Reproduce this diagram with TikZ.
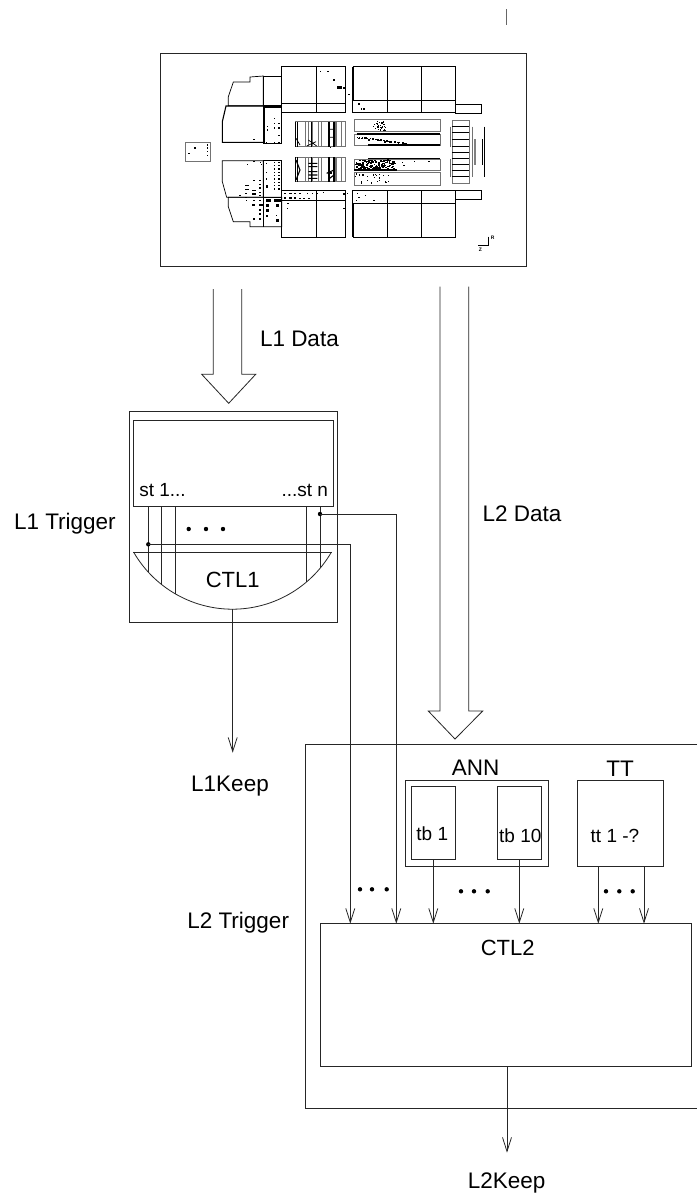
\documentclass[tikz,border=0pt]{standalone}
\usepackage{fontspec}
\setmainfont{Liberation Sans}
\usetikzlibrary{arrows.meta}
\tikzset{
  ln/.style={line width=0.8pt,draw=black!85},
  boxn/.style={ln,rectangle,inner sep=0pt,outer sep=0pt,anchor=north west},
  big/.style={font=\fontsize{22.5}{24}\selectfont,inner sep=0pt,outer sep=0pt},
  ctl/.style={font=\fontsize{22}{24}\selectfont,inner sep=0pt,outer sep=0pt},
  small/.style={font=\fontsize{19}{22}\selectfont,inner sep=0pt,outer sep=0pt},
  arr/.style={ln,-{Straight Barb[length=14pt,width=9pt,line width=0.8pt]}},
  jdot/.style={circle,fill=black,inner sep=0pt,minimum size=4.4pt},
  det/.style={line width=0.7pt,draw=black},
  dethv/.style={line width=1.1pt,draw=black},
  detg/.style={line width=0.9pt,draw=black!55},
}
\newcommand{\hitlist}[1]{\foreach \a/\b in {#1} \fill[black] (\a,\b) rectangle ++(3.5,3.5);}
\newcommand{\blocklist}[1]{\foreach \a/\b/\w/\h in {#1} \fill[black] (\a,\b) rectangle ++(\w,\h);}
\begin{document}
\begin{tikzpicture}[x=1pt,y=-1pt]
\useasboundingbox (0,0) rectangle (697,1195);
\fill[white] (0,0) rectangle (697,1195);

% tick above the event display
\draw[line width=1pt,draw=black!60] (506,9) -- (506,25);

% event display frame
\node[boxn,line width=1pt,minimum width=366pt,minimum height=213pt] (display) at (160,53.5) {};

% ---- left half of the detector, in 3x crop coordinates
\begin{scope}[xshift=160pt,yshift=-40pt,x=0.33333pt,y=-0.33333pt]
  \draw[det] (205,197) -- (205,170) -- (220,126) -- (270,126) -- (270,111) -- (310,108) -- (310,197) -- cycle;
  \draw[det] (310,108) rectangle (365,197);
  \draw[dethv] (198,198) -- (187,245) -- (187,307) -- (312,307) -- (312,198) -- cycle;
  \draw[dethv] (312,201) rectangle (365,310);
  \draw[detg] (76,307) rectangle (151,365);
  \draw[det] (365,80) rectangle (470,190);
  \draw[det] (470,80) rectangle (555,190);
  \draw[det] (365,190) rectangle (470,218);
  \draw[det] (470,190) rectangle (555,218);
  \draw[det] (187,362) -- (187,425) -- (200,472) -- (310,472) -- (310,362) -- cycle;
  \draw[dethv] (310,362) rectangle (365,472);
  \draw[det] (205,472) -- (205,500) -- (220,545) -- (270,545) -- (270,560) -- (365,560) -- (365,472) -- cycle;
  \draw[det] (310,472) -- (310,560);
  \draw[det] (365,452) rectangle (470,480);
  \draw[det] (470,452) rectangle (555,480);
  \draw[det] (365,480) rectangle (470,592);
  \draw[det] (470,480) rectangle (555,592);
  % inner chambers
  \draw[detg] (405,245) rectangle (555,320);
  \draw[detg] (405,352) rectangle (555,425);
  \foreach \xx in {435,445,458,475,485,505,525,530,545} {
    \draw[detg] (\xx,245) -- (\xx,320);
    \draw[detg] (\xx,352) -- (\xx,425);
  }
  \foreach \xx in {406,413,455,507,522} {
    \draw[dethv] (\xx,245) -- (\xx,320);
    \draw[dethv] (\xx,352) -- (\xx,425);
  }
  \draw[det] (408,295) -- (420,315) (445,300) -- (470,318) (440,318) -- (468,305) (508,268) -- (522,268) (508,292) -- (522,292);
  \draw[dethv] (408,360) -- (420,390) (420,390) -- (408,420) (445,395) -- (472,395) (445,405) -- (472,405) (445,415) -- (472,415) (500,400) -- (522,390) (505,418) -- (522,405) (445,370) -- (472,370) (445,380) -- (472,380);
  \blocklist{537/137/8/10,318/436/7/7,318/478/14/9,342/478/20/8,318/492/10/8,348/492/10/8,318/508/10/8,318/525/6/6,348/538/8/7,256/436/11/3,256/447/11/4,275/450/14/4,275/460/14/4,275/492/10/6,298/492/10/6,371/458/7/5,387/458/8/5,401/458/8/5,371/472/7/5,387/472/8/5,402/472/5/5,380/488/7/4}
  \hitlist{480/92,502/92,520/118,468/216,280/297,320/258,320/268,342/233,342/248,355/248,342/262,355/262,355/285,342/305,355/305,318/305,103/322,85/338,140/313,140/322,140/332,140/344,260/372,280/362,300/365,303/372,318/368,318/395,318/415,256/458,256/470,298/432,298/442,298/455,298/465,280/420,298/420,238/465,280/480,298/480,258/480,298/508,298/520,298/535,280/535,348/525,418/458,440/458,455/458,418/473,430/473,445/473,380/503,488/455,470/458}
  \foreach \yy in {365,375,...,445} { \hitlist{342/\yy,355/\yy} }
\end{scope}

% ---- right half of the detector, in 3x crop coordinates
\begin{scope}[xshift=330pt,yshift=-40pt,x=0.33333pt,y=-0.33333pt]
  \draw[dethv] (67,80) -- (67,218) (172,80) -- (172,218);
  \draw[det] (70,80) rectangle (172,182);
  \draw[det] (172,80) rectangle (275,182);
  \draw[dethv] (275,80) rectangle (377,182);
  \draw[det] (68,182) rectangle (172,218);
  \draw[det] (172,182) rectangle (275,218);
  \draw[det] (275,182) rectangle (377,218);
  \draw[det] (377,193) rectangle (455,220);
  \draw[dethv] (67,452) -- (67,592) (172,452) -- (172,592);
  \draw[det] (68,452) rectangle (172,490);
  \draw[det] (172,452) rectangle (275,490);
  \draw[det] (275,452) rectangle (377,490);
  \draw[det] (377,452) rectangle (455,478);
  \draw[det] (70,490) rectangle (172,592);
  \draw[det] (172,490) rectangle (275,592);
  \draw[dethv] (275,490) rectangle (377,592);
  % central strips
  \draw[detg] (73,237) rectangle (331,275);
  \draw[detg] (73,282) rectangle (331,315);
  \draw[detg] (73,358) rectangle (331,392);
  \draw[detg] (73,397) rectangle (331,435);
  \draw[dethv] (80,282) -- (331,282) (115,315) -- (331,315) (115,356) -- (331,356) (73,390) -- (200,390);
  % end cap
  \draw[detg] (367,240) rectangle (418,430);
  \foreach \yy in {260,278,298,318,337,355,373,392,410} \draw[det] (367,\yy) -- (418,\yy);
  \draw[line width=1.3pt,draw=black!60] (362,260) -- (362,322) (362,358) -- (362,412);
  \draw[detg] (428,260) -- (428,410);
  \draw[line width=2pt,draw=black!50] (434,298) -- (434,375);
  \draw[det] (458,298) -- (458,375) (463,260) -- (463,410);
  % axes
  \draw[det] (475,590) -- (475,615) -- (445,615);
  \node[font=\fontsize{5}{6}\selectfont\bfseries,inner sep=0pt] (axisR) at (488,593) {R};
  \node[font=\fontsize{5}{6}\selectfont\bfseries,inner sep=0pt] (axisZ) at (451,628) {Z};
  % hits
  \pgfmathsetseed{4217}
  \foreach \i in {1,...,28} {
    \pgfmathsetmacro\a{125+40*rnd}\pgfmathsetmacro\b{240+30*rnd}
    \fill[black] (\a,\b) rectangle ++(3.5,3.5);
  }
  \foreach \i in {1,...,60} {
    \pgfmathsetmacro\a{80+150*rnd}\pgfmathsetmacro\b{288+(\a-80)*0.12+7*rnd}
    \fill[black] (\a,\b) rectangle ++(3.5,3.5);
  }
  \foreach \i in {1,...,170} {
    \pgfmathsetmacro\a{74+120*rnd}\pgfmathsetmacro\b{358+30*rnd}
    \fill[black] (\a,\b) rectangle ++(5,3.5);
  }
  \foreach \i in {1,...,26} {
    \pgfmathsetmacro\a{75+100*rnd}\pgfmathsetmacro\b{399+30*rnd}
    \fill[black] (\a,\b) rectangle ++(3.5,3.5);
  }
  \hitlist{10/118,40/142,55/162,85/190,92/205,100/205,102/215,215/365,220/375,252/362,295/362,0/320,80/458,85/470,105/465,78/480,130/480,50/458,40/460}
  \blocklist{22/137/8/10,40/503/6/5,-4/395/10/8}
\end{scope}

% L1 data arrow
\draw[ln] (213.3,289) -- (213.3,374.3) -- (201.7,374.3) -- (228.7,403.3) -- (255.7,374.3) -- (241.7,374.3) -- (241.7,289);
\node[big,anchor=base west] (l1data) at (260,346) {L1 Data};

% L2 data arrow
\draw[ln] (440,286.7) -- (440,711) -- (428.3,711) -- (455,739) -- (482.7,711) -- (468.7,711) -- (468.7,286.7);
\node[big,anchor=base west] (l2data) at (482.7,521.7) {L2 Data};

% L1 trigger
\node[boxn,minimum width=208pt,minimum height=211pt] (l1box) at (129.3,411) {};
\node[boxn,minimum width=200pt,minimum height=85.3pt] (l1in) at (133.3,420.7) {};
\node[small,anchor=base west] (st1) at (139.3,496.7) {st 1...};
\node[small,anchor=base east] (stn) at (328,496.7) {...st n};
\node[big,anchor=base west] (l1trig) at (14,529) {L1 Trigger};
\draw[ln] (133.3,552) -- (331.7,552);
\draw[ln,smooth] plot[domain=30:150,samples=60] ({232.5+114.2*cos(\x)},{495+114.2*sin(\x)});
\coordinate (a1) at (148.3,572);
\coordinate (a2) at (161.7,584.6);
\coordinate (a3) at (175,593.7);
\coordinate (a4) at (306.7,581.8);
\coordinate (a5) at (320,568.4);
\coordinate (j1) at (148.3,544.3);
\coordinate (j2) at (320,514);
\foreach \c in {a1,a2,a3,a4,a5} \draw[ln] (\c |- l1in.south) -- (\c);
\node[jdot] (jd1) at (j1) {};
\node[jdot] (jd2) at (j2) {};
\node[jdot] (d1a) at (188.7,529) {};
\node[jdot] (d1b) at (206,529) {};
\node[jdot] (d1c) at (223,529) {};
\node[ctl,anchor=center] (ctl1) at (232.7,580) {CTL1};
\coordinate (ctl1b) at (232.7,609.3);
\coordinate (l1k) at (232.7,752.7);
\draw[arr] (ctl1b) -- (l1k);
\node[big,anchor=base] (l1keep) at (230,791.7) {L1Keep};

% L2 trigger frame, open at the page edge
\draw[ln] (697,744.3) -- (305,744.3) -- (305,1108.7) -- (697,1108.7);
\node[big,anchor=base west] (l2trig) at (187.3,928) {L2 Trigger};

\node[boxn,minimum width=371.7pt,minimum height=143pt] (ctl2) at (320,923.7) {};
\node[ctl,anchor=center] (ctl2t) at (507.7,948) {CTL2};

\node[boxn,line width=1pt,minimum width=143pt,minimum height=85.6pt] (ann) at (405.7,780.7) {};
\node[boxn,minimum width=44pt,minimum height=72.3pt] (tb1) at (411.3,786.7) {};
\node[boxn,minimum width=44pt,minimum height=72.3pt] (tb10) at (497.3,786.7) {};
\node[boxn,minimum width=86pt,minimum height=85.6pt] (tt) at (577.3,780.7) {};
\node[big,anchor=base] (annt) at (475.7,775) {ANN};
\node[big,anchor=base] (ttt) at (620,776.7) {TT};
\node[small,anchor=base] (tb1t) at (432.3,840) {tb 1};
\node[small,anchor=base] (tb10t) at (520.3,842.3) {tb 10};
\node[small,anchor=base] (ttt2) at (615,842.3) {tt 1 -?};

% feeds into CTL2
\coordinate (f1) at (350.3,923.7);
\coordinate (f2) at (396.3,923.7);
\draw[arr] (j1) -| (f1);
\draw[arr] (j2) -| (f2);
\draw[arr] (tb1.south) -- (tb1.south |- ctl2.north);
\draw[arr] (tb10.south) -- (tb10.south |- ctl2.north);
\coordinate (t1) at (598.3,866.3);
\coordinate (t2) at (644,866.3);
\draw[arr] (t1) -- (t1 |- ctl2.north);
\draw[arr] (t2) -- (t2 |- ctl2.north);
\node[jdot] (d2a) at (360,889.3) {};
\node[jdot] (d2b) at (372,889.3) {};
\node[jdot] (d2c) at (386.7,889.3) {};
\node[jdot] (d3a) at (461,891.3) {};
\node[jdot] (d3b) at (474,891.3) {};
\node[jdot] (d3c) at (487.7,891.3) {};
\node[jdot] (d4a) at (606,891.3) {};
\node[jdot] (d4b) at (619.3,891.3) {};
\node[jdot] (d4c) at (632.7,891.3) {};

% L2 keep
\coordinate (l2k) at (507,1152.7);
\draw[arr] (l2k |- ctl2.south) -- (l2k);
\node[big,anchor=base] (l2keep) at (506.7,1188.3) {L2Keep};
\end{tikzpicture}
\end{document}
